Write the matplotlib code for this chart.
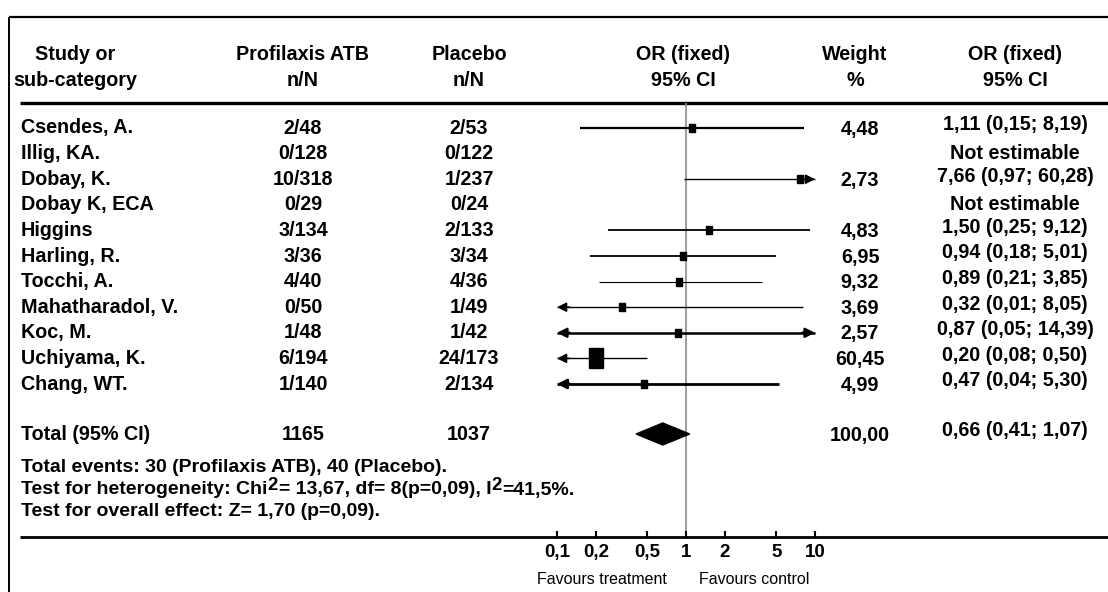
import matplotlib
matplotlib.use("Agg")
import matplotlib.pyplot as plt

plt.rcParams['font.family'] = ['Liberation Sans', 'DejaVu Sans']

# ---------------- data ----------------
studies = ["Csendes, A.", "Illig, KA.", "Dobay, K.", "Dobay K, ECA", "Higgins",
           "Harling, R.", "Tocchi, A.", "Mahatharadol, V.", "Koc, M.",
           "Uchiyama, K.", "Chang, WT."]
treat_nN = ["2/48", "0/128", "10/318", "0/29", "3/134", "3/36", "4/40",
            "0/50", "1/48", "6/194", "1/140"]
placebo_nN = ["2/53", "0/122", "1/237", "0/24", "2/133", "3/34", "4/36",
              "1/49", "1/42", "24/173", "2/134"]
or_vals = [1.11, None, 7.66, None, 1.50, 0.94, 0.89, 0.32, 0.87, 0.20, 0.47]
ci_lo = [0.15, None, 0.97, None, 0.25, 0.18, 0.21, 0.01, 0.05, 0.08, 0.04]
ci_hi = [8.19, None, 60.28, None, 9.12, 5.01, 3.85, 8.05, 14.39, 0.50, 5.30]
weights = [4.48, None, 2.73, None, 4.83, 6.95, 9.32, 3.69, 2.57, 60.45, 4.99]

total_treat = "1165"
total_placebo = "1037"
total_weight = "100,00"
total_or, total_lo, total_hi = 0.66, 0.41, 1.07

tick_vals = [0.1, 0.2, 0.5, 1, 2, 5, 10]
tick_labels = ["0,1", "0,2", "0,5", "1", "2", "5", "10"]

# line widths per row (appearance only)
row_lw = [1.6, 1.0, 1.0, 1.0, 1.3, 1.3, 0.8, 1.0, 1.8, 1.0, 2.0]


def fmt(v):
    return f"{v:.2f}".replace(".", ",")


# ---------------- layout ----------------
W, H = 1108, 592
fig = plt.figure(figsize=(W / 100, H / 100), dpi=100)
ov = fig.add_axes([0, 0, 1, 1])
ov.set_xlim(0, W)
ov.set_ylim(H, 0)
ov.axis('off')
renderer = fig.canvas.get_renderer()

X01, X10 = 557, 815          # pixel positions of 0.1 and 10
Y_TOP, Y_BOT = 103, 537      # header line and axis line
ROW0, DY = 128, 25.6
Y_TOTAL = 434

FS = 14.2
bold = dict(fontsize=FS, fontweight='bold', color='black')

# frame lines
ov.plot([9, W], [17, 17], color='black', lw=1.6, solid_capstyle='butt')
ov.plot([9, 9], [17, H], color='black', lw=1.4, solid_capstyle='butt')
ov.plot([20, W], [Y_TOP, Y_TOP], color='black', lw=2.4, solid_capstyle='butt')
ov.plot([20, W], [Y_BOT, Y_BOT], color='black', lw=2.0, solid_capstyle='butt')

# headers
COL_NAME = 21
COL_T, COL_P = 303, 469
COL_OR = 686
COL_W, COL_CI = 860, 1015
HY1, HY2 = 54, 80
ov.text(75, HY1, "Study or", ha='center', va='center', **bold)
ov.text(75, HY2, "sub-category", ha='center', va='center', **bold)
ov.text(COL_T, HY1, "Profilaxis ATB", ha='center', va='center', **bold)
ov.text(COL_T, HY2, "n/N", ha='center', va='center', **bold)
ov.text(COL_P, HY1, "Placebo", ha='center', va='center', **bold)
ov.text(COL_P, HY2, "n/N", ha='center', va='center', **bold)
ov.text(COL_OR - 3, HY1, "OR (fixed)", ha='center', va='center', **bold)
ov.text(COL_OR - 3, HY2, "95% CI", ha='center', va='center', **bold)
ov.text(COL_W - 5, HY1, "Weight", ha='center', va='center', **bold)
ov.text(COL_W - 5, HY2, "%", ha='center', va='center', **bold)
ov.text(COL_CI, HY1, "OR (fixed)", ha='center', va='center', **bold)
ov.text(COL_CI, HY2, "95% CI", ha='center', va='center', **bold)

# forest axes
fa = fig.add_axes([X01 / W, (H - Y_BOT) / H, (X10 - X01) / W, (Y_BOT - Y_TOP) / H])
fa.set_xscale('log')
fa.set_xlim(0.1, 10)
fa.set_ylim(Y_BOT, Y_TOP)
fa.patch.set_alpha(0)
for s in fa.spines.values():
    s.set_visible(False)
fa.set_yticks([])
fa.set_xticks(tick_vals)
fa.set_xticklabels(tick_labels)
fa.minorticks_off()
fa.tick_params(axis='x', direction='in', length=4, width=1.5, pad=5,
               labelsize=13.5)
for lbl in fa.get_xticklabels():
    lbl.set_fontweight('bold')

fa.plot([1, 1], [Y_TOP, Y_BOT], color='#8c8c8c', lw=1.2, zorder=1)

rect = [(-0.35, -0.5), (0.35, -0.5), (0.35, 0.5), (-0.35, 0.5), (-0.35, -0.5)]

for i, name in enumerate(studies):
    y = ROW0 + DY * i
    ov.text(COL_NAME, y, name, ha='left', va='center', **bold)
    ov.text(COL_T, y, treat_nN[i], ha='center', va='center', **bold)
    ov.text(COL_P, y, placebo_nN[i], ha='center', va='center', **bold)
    if or_vals[i] is None:
        ov.text(COL_CI, y, "Not estimable", ha='center', va='center', **bold)
        continue
    ov.text(COL_W, y + 1, fmt(weights[i]), ha='center', va='center', **bold)
    ov.text(COL_CI, y - 3,
            f"{fmt(or_vals[i])} ({fmt(ci_lo[i])}; {fmt(ci_hi[i])})",
            ha='center', va='center', **bold)
    lo = max(ci_lo[i], 0.1)
    hi = min(ci_hi[i], 10)
    lw = row_lw[i]
    fa.plot([lo, hi], [y, y], color='black', lw=lw, solid_capstyle='butt',
            zorder=3, clip_on=False)
    ap = dict(arrowstyle='-|>,head_length=0.55,head_width=0.28', lw=max(lw, 1.2),
              color='black', shrinkA=0, shrinkB=0)
    if ci_lo[i] < 0.1:
        fa.annotate('', xy=(0.1, y), xytext=(0.125, y), arrowprops=ap,
                    annotation_clip=False)
    if ci_hi[i] > 10:
        fa.annotate('', xy=(10, y), xytext=(8.0, y), arrowprops=ap,
                    annotation_clip=False)
    size_pt = (7 + 0.2 * weights[i]) / 1.389
    fa.plot([or_vals[i]], [y], marker=rect, markersize=size_pt, color='black',
            mec='black', ls='none', zorder=4, clip_on=False)

# total row
ov.text(COL_NAME, Y_TOTAL + 1, "Total (95% CI)", ha='left', va='center', **bold)
ov.text(COL_T, Y_TOTAL + 1, total_treat, ha='center', va='center', **bold)
ov.text(COL_P, Y_TOTAL + 1, total_placebo, ha='center', va='center', **bold)
ov.text(COL_W, Y_TOTAL + 1, total_weight, ha='center', va='center', **bold)
ov.text(COL_CI, Y_TOTAL - 3,
        f"{fmt(total_or)} ({fmt(total_lo)}; {fmt(total_hi)})",
        ha='center', va='center', **bold)
fa.fill([total_lo, total_or, total_hi, total_or],
        [Y_TOTAL, Y_TOTAL - 11, Y_TOTAL, Y_TOTAL + 11], color='black', zorder=4)

# footer texts
FS2 = 14.0
ov.text(COL_NAME, 467, "Total events: 30 (Profilaxis ATB), 40 (Placebo).",
        ha='left', va='center', fontsize=FS2, fontweight='bold')

# heterogeneity line with full-size raised superscripts
segments = [("Test for heterogeneity: Chi", 0, FS2),
            ("2", -5, FS2 * 0.95),
            ("= 13,67, df= 8(p=0,09), I", 0, FS2),
            ("2", -5, FS2 * 0.95),
            ("=41,5%.", 0, FS2)]
x = COL_NAME
for txt, dy, fs in segments:
    t = ov.text(x, 490 + dy, txt, ha='left', va='center', fontsize=fs,
                fontweight='bold')
    bb = t.get_window_extent(renderer)
    x = bb.x1 + 0.5

ov.text(COL_NAME, 511, "Test for overall effect: Z= 1,70 (p=0,09).",
        ha='left', va='center', fontsize=FS2, fontweight='bold')

ov.text(667, 580, "Favours treatment", ha='right', va='center', fontsize=11.5)
ov.text(699, 580, "Favours control", ha='left', va='center', fontsize=11.5)

fig.savefig("out.png", dpi=100)
